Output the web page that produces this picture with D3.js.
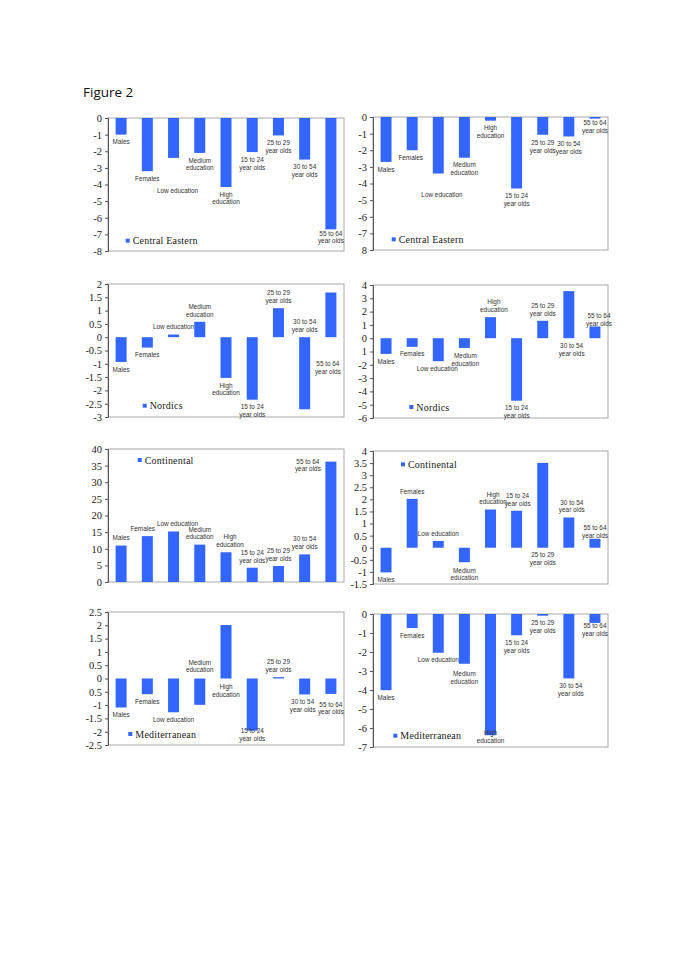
<!DOCTYPE html>
<html>
<head>
<meta charset="utf-8">
<script src="https://cdn.jsdelivr.net/npm/d3@7"></script>
<style>
  html, body { margin: 0; padding: 0; background: #fff; }
  svg { display: block; }
</style>
</head>
<body>
<svg id="chart" width="685" height="969"></svg>
<script>
// ---------- DATA ----------
const categories = ["Males", "Females", "Low education", "Medium education", "High education",
  "15 to 24 year olds", "25 to 29 year olds", "30 to 54 year olds", "55 to 64 year olds"];
const categoryLines = [["Males"], ["Females"], ["Low education"], ["Medium", "education"], ["High", "education"],
  ["15 to 24", "year olds"], ["25 to 29", "year olds"], ["30 to 54", "year olds"], ["55 to 64", "year olds"]];

const seriesNames = ["Central Eastern", "Central Eastern", "Nordics", "Nordics",
  "Continental", "Continental", "Mediterranean", "Mediterranean"];

const centralEasternA = [-1.0, -3.2, -2.4, -2.1, -4.15, -2.05, -1.05, -2.5, -6.7];
const centralEasternB = [-2.7, -2.0, -3.4, -2.45, -0.22, -4.3, -1.07, -1.17, -0.1];
const nordicsA = [-0.93, -0.39, 0.1, 0.58, -1.53, -2.35, 1.09, -2.71, 1.68];
const nordicsB = [-1.18, -0.65, -1.73, -0.73, 1.58, -4.7, 1.31, 3.54, 0.88];
const continentalA = [10.95, 13.8, 15.2, 11.25, 8.95, 4.3, 4.8, 8.3, 36.2];
const continentalB = [-1.02, 2.02, 0.28, -0.6, 1.58, 1.53, 3.51, 1.25, 0.37];
const mediterraneanA = [-1.09, -0.59, -1.27, -0.99, 2.01, -1.96, 0.05, -0.6, -0.58];
const mediterraneanB = [-4.01, -0.74, -2.04, -2.62, -6.38, -1.12, -0.09, -3.39, -0.47];

const domains = [[-8, 0], [-8, 0], [-3, 2], [-6, 4], [0, 40], [-1.5, 4], [-2.5, 2.5], [-7, 0]];

const ticksCE_A = [0, -1, -2, -3, -4, -5, -6, -7, -8];
const tickLabelsCE_A = ["0", "-1", "-2", "-3", "-4", "-5", "-6", "-7", "-8"];
const ticksCE_B = [0, -1, -2, -3, -4, -5, -6, -7, -8];
const tickLabelsCE_B = ["0", "-1", "-2", "-3", "-4", "-5", "-6", "-7", "8"];
const ticksN_A = [2, 1.5, 1, 0.5, 0, -0.5, -1, -1.5, -2, -2.5, -3];
const tickLabelsN_A = ["2", "1.5", "1", "0.5", "0", "-0.5", "-1", "-1.5", "-2", "-2.5", "-3"];
const ticksN_B = [4, 3, 2, 1, 0, -1, -2, -3, -4, -5, -6];
const tickLabelsN_B = ["4", "3", "2", "1", "0", "1", "-2", "-3", "-4", "-5", "-6"];
const ticksC_A = [40, 35, 30, 25, 20, 15, 10, 5, 0];
const tickLabelsC_A = ["40", "35", "30", "25", "20", "15", "10", "5", "0"];
const ticksC_B = [4, 3.5, 3, 2.5, 2, 1.5, 1, 0.5, 0, -0.5, -1, -1.5];
const tickLabelsC_B = ["4", "3.5", "3", "2.5", "2", "1.5", "1", "0.5", "0", "-0.5", "-1", "-1.5"];
const ticksM_A = [2.5, 2, 1.5, 1, 0.5, 0, -0.5, -1, -1.5, -2, -2.5];
const tickLabelsM_A = ["2.5", "2", "1.5", "1", "0.5", "0", "0.5", "-1", "-1.5", "-2", "-2.5"];
const ticksM_B = [0, -1, -2, -3, -4, -5, -6, -7];
const tickLabelsM_B = ["0", "-1", "-2", "-3", "-4", "-5", "-6", "-7"];

// ---------- LAYOUT (positions / styles, not data) ----------
const panels = [
  { values: centralEasternA, ticks: ticksCE_A, tickLabels: tickLabelsCE_A, col: 0, top: 118,
    legend: [17.7, 122.7],
    ndx: [0, 0, 4, 0, 0, 0, 0, 0, 0], ndy: [0, 0, 25, 0, 0, 0, 0, 0, -3.5] },
  { values: centralEasternB, ticks: ticksCE_B, tickLabels: tickLabelsCE_B, col: 1, top: 117,
    legend: [18.7, 122.3],
    ndx: [0, -1.5, 3.7, 0, 0, 0, 0, 0, 0], ndy: [0, 0, 13.5, 0, 0, 0, 1, 0, -3] },
  { values: nordicsA, ticks: ticksN_A, tickLabels: tickLabelsN_A, col: 0, top: 284,
    legend: [34.7, 121.7],
    ndx: [0, 0, 0, 0, 0, 0, 0, 0, -3], ndy: [0, 0, 0, 0, 0, 0, 0, -95, 86.4] },
  { values: nordicsB, ticks: ticksN_B, tickLabels: tickLabelsN_B, col: 1, top: 285,
    legend: [36.3, 122],
    ndx: [0, 0, -1, 1, 3.4, 0, 0, 2.8, 4], ndy: [0, 0, 0, 0.7, 0, 0, 0, 69.6, 4.5] },
  { values: continentalA, ticks: ticksC_A, tickLabels: tickLabelsC_A, col: 0, top: 449,
    legend: [29.7, 11],
    ndx: [0, -4.7, 4, 0, 4, 0, 0, 0, -23], ndy: [0, 0, 0, 0, 0, 0, 0, 0, 15] },
  { values: continentalB, ticks: ticksC_B, tickLabels: tickLabelsC_B, col: 1, top: 451,
    legend: [28, 13.3],
    ndx: [0, 0, 0, 0, 2.5, 1, 0, 3, 0], ndy: [0, 0, 0, 0.7, 0, 0, 107.5, 0, 4] },
  { values: mediterraneanA, ticks: ticksM_A, tickLabels: tickLabelsM_A, col: 0, top: 612,
    legend: [20.3, 122],
    ndx: [0, 0, 0, 0, 0, 0, 0, -2, 0], ndy: [0, 0, 0, -49.8, 77.2, -7, 0, 0, 3] },
  { values: mediterraneanB, ticks: ticksM_B, tickLabels: tickLabelsM_B, col: 1, top: 614,
    legend: [20.3, 121.7],
    ndx: [0, 0, 0, 0, 0, 0, 0, 2, 0], ndy: [0, 0, 0, 2.7, -10, 0, 0, 0, -4.5] }
];

const colX = [[108, 344], [373, 608]];
const plotH = 133;
const barColor = "#3366ff";
const serif = "'Liberation Serif', 'DejaVu Serif', serif";
const sans = "'Liberation Sans', Arial, sans-serif";
const labelFont = 6.4;
const lineH = 7.8;
const gap = 3.5;

const svg = d3.select("#chart");
svg.append("rect").attr("width", 685).attr("height", 969).attr("fill", "#fff");

svg.append("text")
  .attr("x", 83).attr("y", 97)
  .attr("font-family", "'Open Sans', 'Liberation Sans', sans-serif")
  .attr("font-size", 13.5)
  .attr("fill", "#111")
  .text("Figure 2");

panels.forEach((p, pi) => {
  const [x0, x1] = colX[p.col];
  const y0 = p.top, y1 = p.top + plotH;
  const g = svg.append("g");

  const x = d3.scaleBand().domain(categories).range([x0, x1])
    .paddingInner(0.58).paddingOuter(0.29);
  const y = d3.scaleLinear().domain(domains[pi]).range([y1, y0]);

  // plot box
  g.append("rect")
    .attr("x", x0).attr("y", y0).attr("width", x1 - x0).attr("height", plotH)
    .attr("fill", "none").attr("stroke", "#a8a8a8").attr("stroke-width", 1);

  // y axis
  const axis = d3.axisLeft(y)
    .tickValues(p.ticks)
    .tickSize(3).tickPadding(3)
    .tickFormat((d, i) => p.tickLabels[i]);
  const ag = g.append("g").attr("transform", `translate(${x0},0)`).call(axis);
  ag.select(".domain").attr("stroke", "#555");
  ag.selectAll(".tick line").attr("stroke", "#555");
  ag.selectAll(".tick text")
    .attr("font-family", serif).attr("font-size", 10.5).attr("fill", "#222");

  // bars
  g.selectAll("rect.bar").data(p.values).join("rect")
    .attr("class", "bar")
    .attr("x", (d, i) => x(categories[i]))
    .attr("width", x.bandwidth())
    .attr("y", d => Math.min(y(d), y(0)))
    .attr("height", d => Math.abs(y(d) - y(0)))
    .attr("fill", barColor);

  // data labels
  p.values.forEach((v, i) => {
    const lines = categoryLines[i];
    const blockH = lines.length * lineH;
    const cx = x(categories[i]) + x.bandwidth() / 2 + p.ndx[i];
    const end = y(v);
    const center = (v < 0 ? end + gap + blockH / 2 : end - gap - blockH / 2) + p.ndy[i];
    const t = g.append("text")
      .attr("text-anchor", "middle")
      .attr("font-family", sans)
      .attr("font-size", labelFont)
      .attr("fill", "#333");
    lines.forEach((ln, li) => {
      t.append("tspan")
        .attr("x", cx)
        .attr("y", center - blockH / 2 + lineH * li + lineH / 2)
        .attr("dy", "0.35em")
        .text(ln);
    });
  });

  // legend
  const lx = x0 + p.legend[0], ly = y0 + p.legend[1];
  g.append("rect").attr("x", lx).attr("y", ly - 2).attr("width", 4).attr("height", 4).attr("fill", barColor);
  g.append("text")
    .attr("x", lx + 7).attr("y", ly).attr("dy", "0.35em")
    .attr("font-family", serif).attr("font-size", 10).attr("letter-spacing", 0.2)
    .attr("fill", "#222")
    .text(seriesNames[pi]);
});
</script>
</body>
</html>
